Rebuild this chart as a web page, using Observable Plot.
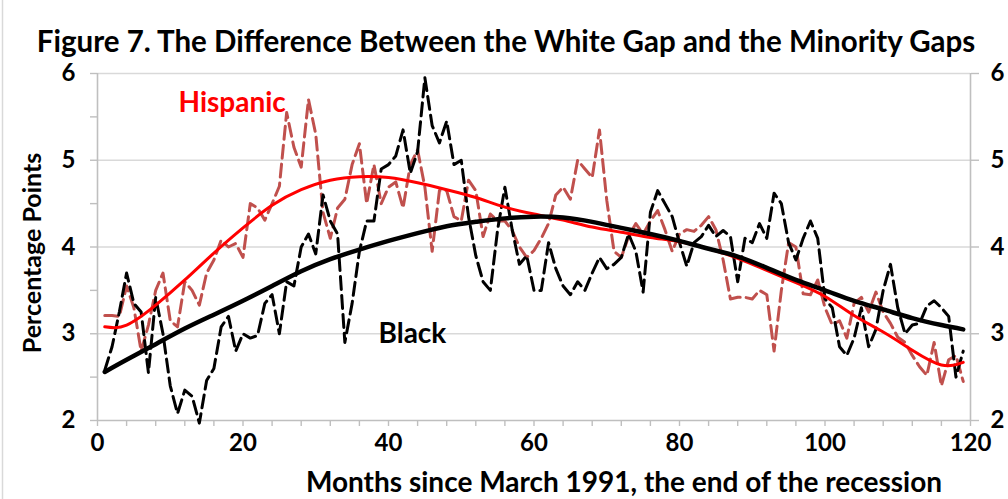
<!DOCTYPE html>
<html><head><meta charset="utf-8">
<script src="https://cdn.jsdelivr.net/npm/d3@7"></script>
<script src="https://cdn.jsdelivr.net/npm/@observablehq/plot@0.6"></script>
<style>body{margin:0;background:#fff;overflow:hidden}</style>
</head><body><div id="chart"></div>
<script>
// Months since March 1991 (1..119)
const months = d3.range(1, 120);

const blackGap = [
  2.58,2.85,3.25,3.70,3.35,3.25,2.55,3.42,3.00,2.40,
  2.08,2.35,2.28,1.97,2.46,2.60,3.08,3.20,2.80,3.00,
  2.95,2.98,3.35,3.45,3.00,3.60,3.55,4.00,4.15,3.92,
  4.60,4.30,4.15,2.90,3.35,3.95,4.30,4.30,4.90,4.95,
  5.05,5.35,4.85,5.10,5.95,5.40,5.20,5.45,4.95,5.00,
  4.35,3.90,3.60,3.50,4.20,4.69,4.20,3.80,3.90,3.50,
  3.50,4.05,3.75,3.55,3.45,3.60,3.50,3.70,3.88,3.75,
  3.80,3.88,4.15,3.95,3.48,4.40,4.65,4.50,4.35,4.05,
  3.78,4.05,4.12,4.25,4.12,4.19,4.12,3.60,4.10,4.05,
  4.27,4.10,4.62,4.50,4.05,3.85,4.10,4.30,4.10,3.40,
  3.30,2.85,2.75,2.95,3.30,2.85,3.05,3.50,3.80,3.30,
  3.00,3.10,3.12,3.32,3.38,3.30,3.20,2.50,2.80
];

const hispanicGap = [
  3.21,3.21,3.20,3.55,3.30,2.80,3.10,3.50,3.70,3.15,
  3.08,3.60,3.50,3.33,3.70,3.85,4.08,4.00,4.04,3.88,
  4.50,4.45,4.31,4.50,4.70,5.55,5.15,4.92,5.70,5.30,
  4.40,4.10,4.45,4.55,4.95,5.19,4.50,4.95,4.50,4.69,
  4.75,4.45,4.95,5.12,4.69,3.95,4.65,4.65,4.35,4.30,
  4.77,4.65,4.12,4.38,4.30,4.30,4.19,4.00,3.88,3.96,
  4.10,4.27,4.60,4.69,4.55,5.00,4.90,4.80,5.35,4.54,
  3.95,3.88,4.12,4.27,4.15,4.30,4.42,4.20,3.95,4.15,
  4.20,4.18,4.25,4.35,4.20,3.85,3.40,3.42,3.42,3.40,
  3.50,3.45,2.80,3.50,4.05,4.00,3.46,3.45,3.62,3.30,
  3.10,3.15,2.95,3.35,3.42,3.25,3.48,3.25,3.12,2.96,
  2.90,2.75,2.62,2.52,2.90,2.40,2.70,2.75,2.45
];

// Polynomial trend lines, read at selected months
const trendMonths = [1,4,8,12,16,20,24,28,32,36,40,44,48,52,56,60,64,68,72,76,80,84,88,92,96,100,104,108,112,116,119];
const blackTrend = [2.56,2.70,2.88,3.06,3.22,3.38,3.55,3.72,3.86,3.97,4.07,4.16,4.24,4.29,4.33,4.35,4.34,4.29,4.22,4.15,4.07,3.98,3.89,3.76,3.62,3.50,3.38,3.28,3.18,3.10,3.05];
const hispanicTrend = [3.08,3.10,3.33,3.62,3.93,4.22,4.48,4.66,4.77,4.81,4.80,4.74,4.66,4.57,4.46,4.38,4.31,4.23,4.17,4.11,4.06,3.98,3.87,3.73,3.59,3.43,3.21,3.02,2.81,2.64,2.67];

const yTicks = [2,3,4,5,6];
const yMinor = [2,2.5,3,3.5,4,4.5,5,5.5,6];
const gridTicks = [3,4,5,6];
const xTicks = [0,20,40,60,80,100,120];
const xMinor = d3.range(0, 121, 4);

const titleText = "Figure 7. The Difference Between the White Gap and the Minority Gaps";
const xLabel = "Months since March 1991, the end of the recession";
const yLabel = "Percentage Points";

const blackRows = months.map((m, i) => ({m, v: blackGap[i]}));
const hispRows = months.map((m, i) => ({m, v: hispanicGap[i]}));
const blackTrendRows = trendMonths.map((m, i) => ({m, v: blackTrend[i]}));
const hispTrendRows = trendMonths.map((m, i) => ({m, v: hispanicTrend[i]}));

const FONT = "Lato, 'Open Sans', sans-serif";
const axisGray = "#bfbfbf";
const fmt = d3.format("d");

const chart = Plot.plot({
  width: 1008,
  height: 499,
  marginLeft: 97,
  marginRight: 38,
  marginTop: 73,
  marginBottom: 79,
  x: {domain: [0, 120]},
  y: {domain: [2, 6]},
  style: {fontFamily: FONT, fontWeight: "bold", fontSize: "24px", color: "black", background: "white", overflow: "visible"},
  marks: [
    Plot.gridY({ticks: gridTicks, stroke: "#d9d9d9", strokeOpacity: 1, strokeWidth: 1.6}),
    Plot.ruleX([0], {stroke: axisGray, strokeWidth: 1.6}),
    Plot.ruleX([120], {stroke: axisGray, strokeWidth: 1.6}),
    Plot.ruleY([2], {stroke: axisGray, strokeWidth: 1.6}),
    Plot.axisY({anchor: "left", ticks: yMinor, tickSize: 7, stroke: axisGray, strokeWidth: 1.4, tickFormat: () => "", label: null}),
    Plot.axisY({anchor: "left", ticks: yTicks, tickSize: 0, tickPadding: 22, tickFormat: fmt, fill: "black", fontSize: 24, label: null}),
    Plot.axisY({anchor: "right", ticks: yTicks, tickSize: 8, tickPadding: 12, tickFormat: fmt, stroke: axisGray, strokeWidth: 1.4, fill: "black", fontSize: 24, label: null}),
    Plot.axisX({ticks: xMinor, tickSize: 6, stroke: axisGray, strokeWidth: 1.4, tickFormat: () => "", label: null}),
    Plot.axisX({ticks: xTicks, tickSize: 0, tickPadding: 13, tickFormat: fmt, fill: "black", fontSize: 24, label: null}),
    Plot.line(hispRows, {x: "m", y: "v", stroke: "#C0504D", strokeWidth: 3, strokeDasharray: "13,6"}),
    Plot.line(blackRows, {x: "m", y: "v", stroke: "black", strokeWidth: 3, strokeDasharray: "13,6"}),
    Plot.line(hispTrendRows, {x: "m", y: "v", curve: "natural", stroke: "#FF0000", strokeWidth: 3}),
    Plot.line(blackTrendRows, {x: "m", y: "v", curve: "natural", stroke: "black", strokeWidth: 4.5}),
    Plot.text([titleText], {frameAnchor: "top", lineAnchor: "middle", dx: -28, dy: -31, fontSize: 29.5, fontWeight: "bold", fill: "black"}),
    Plot.text([xLabel], {frameAnchor: "bottom", lineAnchor: "middle", dx: 90, dy: 63, fontSize: 28, fontWeight: "bold", fill: "black"}),
    Plot.text([yLabel], {frameAnchor: "left", textAnchor: "middle", lineAnchor: "middle", dx: -65, dy: 6, rotate: -90, fontSize: 25, fontWeight: "bold", fill: "black"}),
    Plot.text(["Hispanic"], {frameAnchor: "top-left", lineAnchor: "middle", dx: 81, dy: 30, fontSize: 28, fontWeight: "bold", fill: "#FF0000"}),
    Plot.text(["Black"], {frameAnchor: "top-left", lineAnchor: "middle", dx: 281, dy: 261, fontSize: 28, fontWeight: "bold", fill: "black"})
  ]
});
document.getElementById("chart").append(chart);
// chart-area border on the far left
d3.select(chart).append("line").attr("x1", 2.5).attr("x2", 2.5).attr("y1", 0).attr("y2", 499).attr("stroke", "#d9d9d9").attr("stroke-width", 1.5);
</script>
</body></html>
